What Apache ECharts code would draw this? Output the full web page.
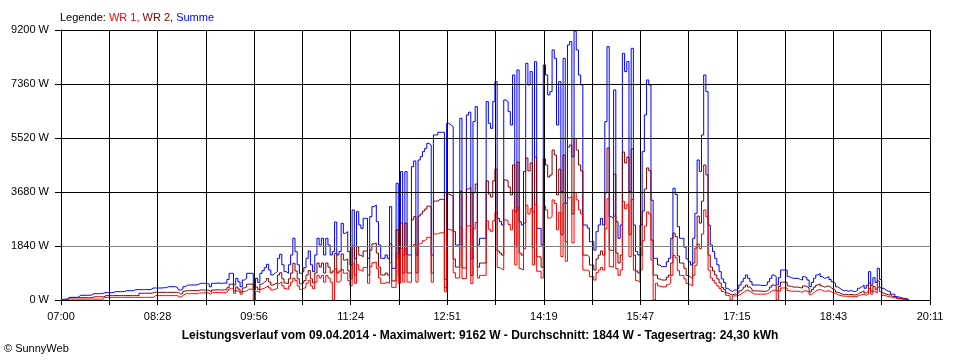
<!DOCTYPE html>
<html><head><meta charset="utf-8">
<script src="https://cdn.jsdelivr.net/npm/echarts@6/dist/echarts.min.js"></script>
<style>html,body{margin:0;padding:0;background:#fff}#c{width:960px;height:360px}</style>
</head><body><div id="c"></div>
<script>
// x tick labels (every other vertical grid line)
const tickLabels = ['07:00','08:28','09:56','11:24','12:51','14:19','15:47','17:15','18:43','20:11'];
const spanMinutes = 791;          // 07:00 .. 20:11
const sampleMinutes = 2;          // one reading every 2 minutes from 07:00
const yMax = 9200, yStep = 1840;
const averageW = 1844;
const titleText = 'Leistungsverlauf vom 09.04.2014 - Maximalwert: 9162 W - Durchschnitt: 1844 W - Tagesertrag: 24,30 kWh';

const summe = [
20,20,30,30,90,90,90,90,100,160,
160,160,160,160,170,216,216,216,216,220,
250,250,250,250,260,284,284,284,284,290,
318,318,318,320,352,352,352,352,352,360,
352,360,409,409,409,409,409,420,420,454,
454,454,454,430,341,380,454,500,511,511,
511,511,530,568,568,568,568,540,454,568,
568,580,568,568,580,568,700,909,909,511,
738,620,454,680,738,909,909,909,398,738,
600,909,1000,1100,1216,1022,852,920,966,1420,
1556,1200,966,909,1200,1534,2102,1647,1200,909,
966,1100,1420,1670,1200,966,1534,2102,1874,2102,
1534,2102,1874,1534,1647,2657,1534,1647,2612,2272,
2329,1647,1193,3067,1420,3010,2556,2442,2783,2783,
1420,2840,3181,3238,2670,1874,1420,1420,1534,1420,
3181,1079,1079,3976,1420,4374,1534,4374,1534,1534,
4544,4737,1534,4771,4885,5055,5169,5339,5280,1534,
5623,5623,5714,5714,5714,700,6021,5964,5907,2329,
1874,1874,6191,1818,1818,6305,6400,1400,6078,6589,
1874,2102,2102,2102,6759,6021,5850,6759,7441,2783,
2670,2556,6816,6759,6418,5964,7668,3010,7838,2670,
2556,4374,8066,7327,7782,3000,8122,2442,2442,1874,
8009,7668,6986,7100,8520,8236,5964,7441,3692,8236,
3300,8690,8804,4885,9162,8520,7668,7327,2556,2556,
2450,1988,1988,1700,2329,2556,2783,2556,6078,8634,
2840,2783,7157,2670,2102,2556,8406,7782,8122,3692,
8577,2556,1647,1534,2556,5055,6305,7498,7327,3400,
1420,1420,1193,1136,1136,1136,1300,1420,2102,3806,
3600,2500,2102,2102,1800,1400,1306,1193,2102,2954,
4771,4374,5623,7668,7100,2556,1874,1647,1420,1200,
966,720,600,398,340,284,341,341,400,511,
620,738,852,740,625,511,511,511,500,500,
490,520,620,738,852,800,511,760,1022,1022,
1022,795,760,738,738,738,700,682,795,760,
682,454,600,740,850,909,800,738,760,795,
700,620,568,450,398,341,318,318,300,318,
300,284,318,400,454,511,400,500,966,500,
760,600,1079,700,398,341,300,284,200,193,
114,100,80,60,50,34,0
];

const wr1 = [
10,10,20,20,30,30,30,30,30,30,
30,30,30,30,30,30,30,30,30,30,
90,90,90,90,90,90,90,90,90,90,
90,90,90,90,90,90,90,90,90,90,
90,90,90,150,150,150,150,150,150,150,
150,150,150,150,100,120,180,216,216,216,
216,216,216,240,240,240,250,240,200,250,
250,260,250,250,260,250,300,380,380,230,
310,270,200,290,310,370,370,370,0,300,
250,370,400,440,480,410,340,370,390,560,
620,480,390,360,480,610,740,660,480,360,
390,440,570,670,480,390,610,840,750,840,
610,840,750,610,0,1060,610,660,1040,910,
930,660,480,1230,570,1200,1020,980,1110,1110,
570,1140,1270,1300,1070,750,570,570,610,570,
1270,430,430,1590,570,1750,610,1750,610,610,
1820,1890,610,1910,1950,2020,2070,2140,2110,610,
2250,2250,2290,2290,2290,280,2410,2390,2360,930,
750,750,2480,730,730,2520,2560,560,2430,2640,
750,840,840,840,2700,2410,2340,2700,2980,1110,
1070,1020,2730,2700,2570,2390,3070,1200,3140,1070,
1020,1750,3230,2930,3110,1200,3250,980,980,750,
3200,3070,2790,2840,3410,3290,2390,2980,1480,3290,
1320,3480,3520,1950,3660,3410,3070,2930,1020,1020,
980,800,800,680,930,1020,1110,1020,2430,3450,
1140,1110,2860,1070,840,1020,3360,3110,3250,1480,
3430,1020,660,610,1020,2020,2520,3000,2930,1360,
0,570,480,450,450,450,520,570,840,1520,
1440,1000,840,840,720,560,520,480,840,1180,
1910,1750,2250,3070,2840,1020,750,660,570,480,
390,290,240,160,140,0,140,140,160,200,
250,300,340,300,250,200,200,200,200,200,
200,210,250,300,340,320,0,300,410,410,
410,320,300,300,300,300,280,270,320,300,
270,180,240,300,340,360,320,300,300,320,
280,250,230,180,160,140,130,130,120,130,
120,110,130,160,180,200,160,200,390,200,
300,240,430,280,160,140,120,110,80,80,
50,40,30,20,20,10,0
];

const wr2 = [
10,10,10,10,80,80,80,80,80,80,
80,80,80,80,90,110,110,110,110,110,
150,150,150,150,150,150,150,150,150,150,
150,150,150,150,150,150,230,230,230,230,
230,230,260,260,260,260,260,260,260,260,
260,260,260,260,200,230,300,318,318,318,
318,318,318,341,341,341,340,330,270,340,
340,350,340,340,350,340,420,540,540,310,
440,370,270,410,440,540,540,540,340,440,
360,540,600,660,730,610,510,550,580,850,
930,720,580,550,720,920,1250,990,720,550,
580,660,850,1000,720,580,920,1260,1120,1260,
920,1260,1120,920,990,1590,920,990,1570,1360,
1400,990,720,1840,850,1810,1530,1470,1670,1670,
850,1700,1910,1940,1600,1120,850,850,920,850,
1910,650,650,2390,850,2620,920,2620,920,920,
2730,2840,920,2860,2930,3030,3100,3200,3170,920,
3370,3370,3430,3430,3430,420,3610,3580,3540,1400,
1120,1120,3710,1090,1090,3780,3840,840,3650,3950,
1120,1260,1260,1260,4060,3610,3510,4060,4460,1670,
1600,1530,4090,4060,3850,3580,4600,1810,4700,1600,
1530,2620,4840,4400,4670,1800,4870,1470,1470,1120,
4810,4600,4190,4260,5110,4940,3580,4460,2220,4940,
1980,5210,5280,2930,5500,5110,4600,4400,1530,1530,
1470,1190,1190,1020,1400,1530,1670,1530,3650,5180,
1700,1670,4290,1600,1260,1530,5040,4670,4870,2220,
5150,1530,990,920,1530,3030,3780,4500,4400,2040,
850,850,720,680,680,680,780,850,1260,2280,
2160,1500,1260,1260,1080,840,780,720,1260,1770,
2860,2620,3370,4600,4260,1530,1120,990,850,720,
580,430,360,240,200,170,200,200,240,310,
370,440,510,440,380,310,310,310,300,300,
290,310,370,440,510,480,310,460,610,610,
610,480,460,440,440,440,420,410,480,460,
410,270,360,440,510,550,480,440,460,480,
420,370,340,270,240,200,190,190,180,190,
180,170,190,240,270,310,240,300,580,300,
460,360,650,420,240,200,180,170,120,120,
70,60,50,40,30,20,0
];

// x axis works in 1/18-minute units so that the 18 grid intervals are integers
const X_UNITS = 18;
const gridStep = spanMinutes;               // one grid interval in axis units
const xMaxUnits = spanMinutes * X_UNITS;    // 14238
function toPairs(arr){ return arr.map((v,i)=>[i*sampleMinutes*X_UNITS, v]); }

const FONT = 'Liberation Sans';
const chart = echarts.init(document.getElementById('c'), null, {renderer:'canvas'});
chart.setOption({
  animation:false,
  backgroundColor:'#ffffff',
  title:[
    {left:60, top:12, padding:0,
     text:'{a|Legende: }{r|WR 1, }{d|WR 2, }{b|Summe}',
     textStyle:{fontSize:11, fontFamily:FONT, fontWeight:'normal',
       rich:{a:{color:'#000000',fontSize:11,fontFamily:FONT},
             r:{color:'#ff0000',fontSize:11,fontFamily:FONT},
             d:{color:'#800000',fontSize:11,fontFamily:FONT},
             b:{color:'#0000ff',fontSize:11,fontFamily:FONT}}}},
    {left:'center', top:330, padding:0, text:titleText,
     textStyle:{fontSize:12, fontWeight:'bold', fontFamily:FONT, color:'#000000'}},
    {left:4, top:343, padding:0, text:'© SunnyWeb',
     textStyle:{fontSize:11, fontWeight:'normal', fontFamily:FONT, color:'#000000'}}
  ],
  grid:{left:61, right:30, top:30, bottom:60, outerBoundsMode:'none'},
  xAxis:{
    type:'value', min:0, max:xMaxUnits, interval:gridStep, z:5,
    axisLine:{lineStyle:{color:'#000000', width:1}},
    axisTick:{length:5, lineStyle:{color:'#000000'}},
    splitLine:{show:true, lineStyle:{color:'#000000', width:1}},
    axisLabel:{color:'#000000', fontSize:11, fontFamily:FONT, margin:11, showMinLabel:true, showMaxLabel:true,
      formatter:function(v){ const i = Math.round(v/gridStep); return i%2===0 ? tickLabels[i/2] : ''; }}
  },
  yAxis:{
    type:'value', min:0, max:yMax, interval:yStep, z:5,
    axisLine:{show:true, lineStyle:{color:'#000000', width:1}},
    axisTick:{show:true, length:6, lineStyle:{color:'#000000'}},
    splitLine:{show:true, lineStyle:{color:['#000000','#808080','#000000','#000000','#000000','#000000'], width:1}},
    axisLabel:{color:'#000000', fontSize:11, fontFamily:FONT, margin:12,
      formatter:function(v){ return v + ' W'; }}
  },
  series:[
    {name:'Summe', type:'line', data:toPairs(summe), step:'middle', symbol:'none', silent:true,
     lineStyle:{color:'#0000ff', width:1}, itemStyle:{color:'#0000ff'}, z:2},
    {name:'WR 2', type:'line', data:toPairs(wr2), step:'middle', symbol:'none', silent:true,
     lineStyle:{color:'#800000', width:1}, itemStyle:{color:'#800000'}, z:3},
    {name:'WR 1', type:'line', data:toPairs(wr1), step:'middle', symbol:'none', silent:true,
     lineStyle:{color:'#ff0000', width:1}, itemStyle:{color:'#ff0000'}, z:4,
     markLine:{silent:true, symbol:'none', label:{show:false}, animation:false,
       lineStyle:{color:'#808080', width:1, type:'solid'}, data:[{yAxis:averageW}]}}
  ]
});
</script>
</body></html>
